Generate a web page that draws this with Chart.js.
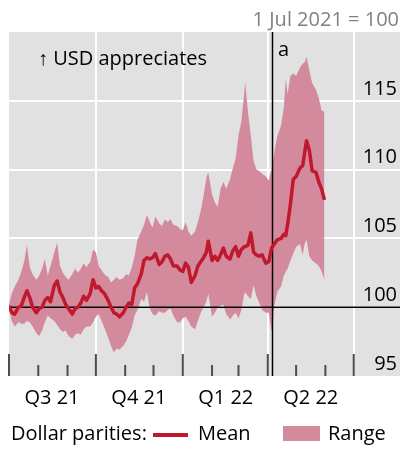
<!DOCTYPE html>
<html><head><meta charset="utf-8">
<script src="https://cdn.jsdelivr.net/npm/chart.js@4.4.1/dist/chart.umd.min.js"></script>
<style>
html,body{margin:0;padding:0;background:#fff;}
#wrap{position:relative;width:400px;height:449px;overflow:hidden;font-family:'Open Sans',sans-serif;color:#000;}
canvas{position:absolute;left:0;top:0;}
.t{position:absolute;white-space:nowrap;line-height:1;font-size:20px;}
</style></head><body>
<div id="wrap">
<canvas id="c" width="400" height="449"></canvas>
<div class="t" style="right:1px;top:9px;color:#808080">1 Jul 2021 = 100</div>
<div class="t" style="left:38px;top:48px;">↑ USD appreciates</div>
<div class="t" style="left:278px;top:39px;">a</div>
<div class="t" style="left:11px;top:423px;">Dollar parities:</div>
<div style="position:absolute;left:153px;top:433px;width:35px;height:4px;background:#c0182c"></div>
<div class="t" style="left:198px;top:423px;">Mean</div>
<div style="position:absolute;left:283px;top:426px;width:37px;height:15px;background:#d48a9d"></div>
<div class="t" style="left:328px;top:423px;">Range</div>
</div>
<script>
// Days since 1 Jul 2021
const days = [0,3,6,10,13,16,19,22,25,29,
32,35,38,41,44,48,51,54,57,60,
63,67,70,73,76,79,82,86,89,92,
95,98,101,105,108,111,114,117,121,124,
127,130,133,136,140,143,146,149,152,155,
159,162,165,168,171,174,178,181,184,187,
190,193,197,200,203,206,209,211,215,218,
221,224,227,230,234,237,240,243,246,249,
250,253,256,259,262,265,268,272,275,278,
281,284,288,291,293,295,298,301,304,308,
311,313,315,318,321,325,328,331,334];

const meanVals = [100.1,99.6,99.5,100.0,100.1,100.7,101.2,100.7,100.0,99.6,
99.9,100.0,100.5,100.7,100.4,101.6,101.9,101.1,100.7,100.2,
99.9,99.5,99.9,100.0,100.3,100.8,100.5,101.0,102.0,101.4,
101.5,101.2,101.0,100.5,100.0,99.6,99.5,99.3,99.6,100.0,
100.3,100.2,101.4,101.7,102.4,103.4,103.6,103.5,103.6,103.9,
103.1,103.3,103.7,103.8,103.5,103.0,103.0,102.7,102.6,103.2,
102.9,101.8,102.3,103.0,103.3,103.6,104.0,104.8,103.4,103.7,
103.4,103.8,104.3,103.7,103.5,104.1,104.4,103.7,104.2,104.4,
104.4,104.5,105.4,104.0,103.8,103.7,103.8,103.2,103.3,104.3,
104.6,104.9,105.0,105.3,105.2,106.0,107.5,109.3,109.5,110.1,
110.3,111.2,112.1,111.4,109.9,109.8,109.1,108.6,107.8];

const highVals = [100.2,101.0,101.5,102.0,102.6,103.3,104.5,102.9,102.4,102.0,
102.3,102.8,103.5,102.3,103.0,104.0,104.7,103.0,102.5,102.2,
102.0,102.4,102.8,102.5,102.8,103.2,102.9,103.3,104.2,104.0,
103.0,102.7,102.4,102.2,101.8,102.0,102.2,102.0,102.1,102.4,
102.3,102.9,103.7,104.9,105.5,106.0,106.7,106.2,105.8,106.6,
106.1,105.9,106.4,106.2,106.4,106.0,105.9,105.7,105.6,106.2,
105.5,105.2,105.5,106.2,107.0,108.1,109.4,109.8,108.2,107.6,
107.3,108.6,109.1,108.6,109.3,110.1,110.8,112.5,113.5,115.5,
116.4,114.2,112.5,110.6,110.0,109.9,109.7,109.5,109.2,110.0,
111.3,112.4,113.2,114.5,116.6,115.5,116.8,117.0,116.8,117.4,
117.7,117.8,118.2,117.2,116.3,115.8,115.2,114.3,114.2];

const lowVals = [99.9,99.0,98.6,98.9,98.8,98.8,99.0,98.9,98.6,98.1,
97.9,98.3,98.9,99.4,99.2,99.0,98.7,98.4,98.2,98.3,
97.9,97.7,98.0,98.1,98.0,98.4,98.6,98.6,98.9,99.3,
99.5,99.0,98.5,97.8,97.2,96.7,97.0,96.9,97.2,97.5,
98.0,98.5,99.4,99.8,100.6,100.4,101.1,99.9,99.5,99.4,
99.7,99.6,99.6,99.8,99.9,99.4,98.9,98.9,99.2,99.3,
99.0,98.6,98.4,99.0,99.6,100.0,100.4,101.0,99.3,99.6,
100.0,100.1,100.2,99.5,99.1,99.4,99.6,99.2,99.8,100.9,
101.1,100.8,100.6,101.6,100.8,100.3,99.8,99.6,99.6,98.2,
100.1,101.1,101.5,102.3,102.6,102.8,103.4,103.9,104.4,104.6,
103.8,104.6,104.9,103.7,103.4,103.2,103.0,102.6,102.0];

const quarterStarts = [0, 92, 184, 274, 365];
const quarterLabels = ['Q3 21', 'Q4 21', 'Q1 22', 'Q2 22', ''];
const monthStarts = [31, 62, 123, 153, 215, 243, 304, 335];
const yTickValues = [95, 100, 105, 110, 115, 120];
const yTickLabels = ['95', '100', '105', '110', '115', ''];
const eventDay = 279;
const baseValue = 100;

const pts = arr => days.map((d, i) => ({x: d, y: arr[i]}));
const FONT = {family: "'Open Sans', sans-serif", size: 20};

const deco = {
  id: 'deco',
  beforeDraw(chart) {
    const {ctx, chartArea: a} = chart;
    ctx.save();
    ctx.fillStyle = '#e1e1e1';
    ctx.fillRect(a.left, a.top, a.right - a.left, a.bottom - a.top);
    ctx.restore();
  },
  beforeDatasetDraw(chart, args) {
    if (args.index !== 0) return;
    const {ctx, chartArea: a, scales: {x, y}} = chart;
    ctx.save();
    ctx.strokeStyle = '#000';
    ctx.lineWidth = 1.5;
    const yb = y.getPixelForValue(baseValue);
    ctx.beginPath(); ctx.moveTo(a.left, yb); ctx.lineTo(a.right, yb); ctx.stroke();
    const xe = x.getPixelForValue(eventDay);
    ctx.beginPath(); ctx.moveTo(xe, a.top); ctx.lineTo(xe, a.bottom); ctx.stroke();
    ctx.restore();
  },
  afterDraw(chart) {
    const {ctx, chartArea: a, scales: {x}} = chart;
    ctx.save();
    ctx.strokeStyle = '#4d4d4d';
    ctx.lineWidth = 2;
    quarterStarts.forEach(v => {
      const px = x.getPixelForValue(v);
      ctx.beginPath(); ctx.moveTo(px, a.bottom - 22); ctx.lineTo(px, a.bottom); ctx.stroke();
    });
    monthStarts.forEach(v => {
      const px = x.getPixelForValue(v);
      ctx.beginPath(); ctx.moveTo(px, a.bottom - 11); ctx.lineTo(px, a.bottom); ctx.stroke();
    });
    ctx.restore();
  }
};

new Chart(document.getElementById('c'), {
  type: 'line',
  data: {
    datasets: [
      {label: 'Mean', data: pts(meanVals), borderColor: '#c0182c', borderWidth: 3.5,
       pointRadius: 0, fill: false, order: 0, tension: 0, borderJoinStyle: 'round'},
      {label: 'Range', data: pts(highVals), borderColor: 'rgba(0,0,0,0)', borderWidth: 0,
       backgroundColor: '#d48a9d', fill: '+1', pointRadius: 0, order: 1},
      {label: 'Range low', data: pts(lowVals), borderColor: 'rgba(0,0,0,0)', borderWidth: 0,
       pointRadius: 0, fill: false, order: 2}
    ]
  },
  options: {
    responsive: false,
    animation: false,
    devicePixelRatio: 1,
    layout: {padding: {left: 9, right: 0, top: 32, bottom: 29}},
    plugins: {legend: {display: false}, tooltip: {enabled: false}},
    scales: {
      x: {
        type: 'linear', min: 0, max: 414,
        afterBuildTicks(s) { s.ticks = quarterStarts.map(v => ({value: v})); },
        grid: {color: c => (c.tick && c.tick.value === 0) ? 'rgba(0,0,0,0)' : '#ffffff', lineWidth: 2, drawTicks: false},
        border: {display: false},
        ticks: {callback: (v, i) => quarterLabels[i], labelOffset: 43, padding: 10, color: '#000',
                font: FONT, maxRotation: 0, autoSkip: false},
        afterFit(s) { s.paddingLeft = 0; s.paddingRight = 0; }
      },
      y: {
        type: 'linear', position: 'right', min: 95, max: 120,
        afterBuildTicks(s) { s.ticks = yTickValues.map(v => ({value: v})); },
        grid: {color: c => (c.tick && (c.tick.value === 95 || c.tick.value === 120)) ? 'rgba(0,0,0,0)' : '#ffffff', lineWidth: 2, drawTicks: false},
        border: {display: false},
        ticks: {mirror: true, padding: -3, labelOffset: -12, callback: (v, i) => yTickLabels[i],
                color: '#000', font: FONT},
        afterFit(s) { s.width = 0; s.paddingTop = 0; s.paddingBottom = 0; }
      }
    }
  },
  plugins: [deco]
});
</script>
</body></html>
